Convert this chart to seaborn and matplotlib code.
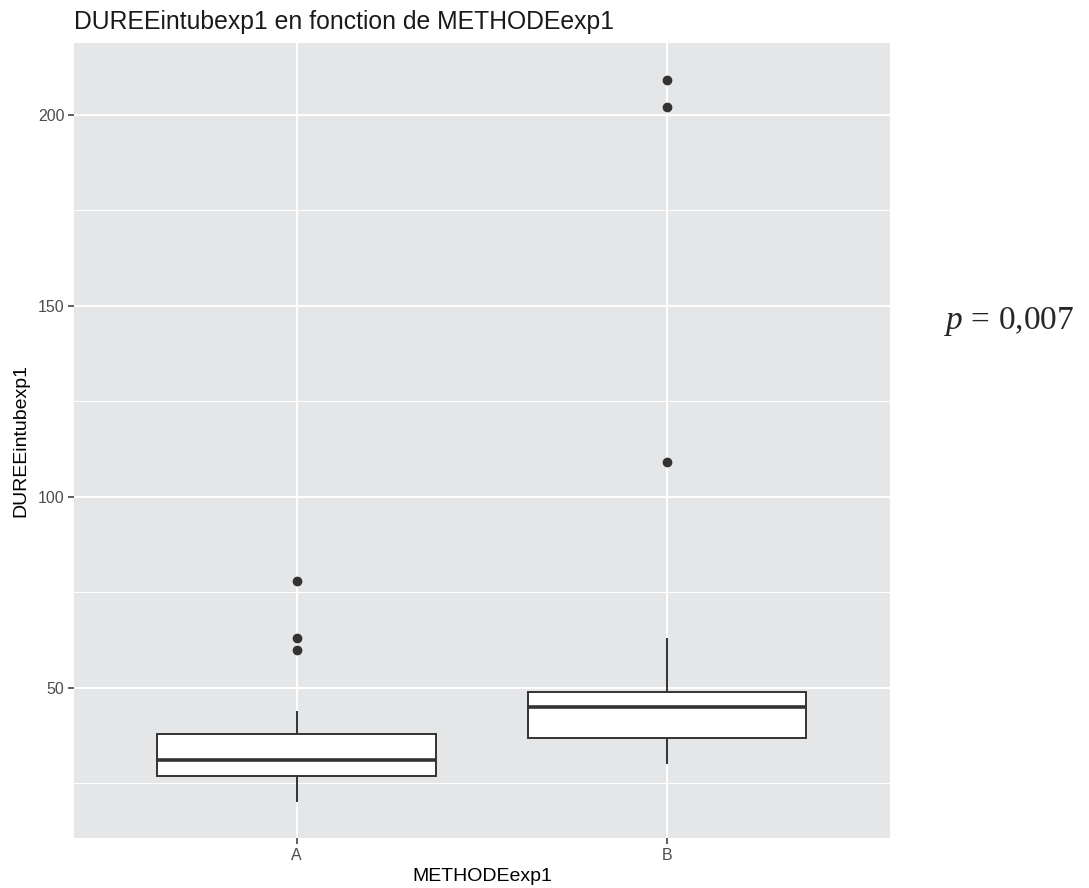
import numpy as np
import pandas as pd
import seaborn as sns
import matplotlib.pyplot as plt
from matplotlib.ticker import FixedLocator

# valeurs (quartiles, moustaches, points extremes)
duree_A = [20, 23, 25, 26, 27, 28, 29, 30, 31, 32, 34, 36, 38, 44, 60, 63, 78]
duree_B = [30, 33, 35, 36, 37, 40, 42, 44, 45, 46, 47, 48, 49, 63, 109, 202, 209]
methodes = ["A", "B"]
y_ticks = [50, 100, 150, 200]
y_minor = [25, 75, 125, 175]

df = pd.DataFrame({
    "METHODEexp1": ["A"] * len(duree_A) + ["B"] * len(duree_B),
    "DUREEintubexp1": duree_A + duree_B,
})

sns.set_theme(style="darkgrid")
plt.rcParams["font.family"] = ["Liberation Sans", "DejaVu Sans"]
plt.rcParams["mathtext.fontset"] = "custom"
plt.rcParams["mathtext.it"] = "Liberation Serif:italic"
plt.rcParams["mathtext.rm"] = "Liberation Serif"

fig = plt.figure(figsize=(10.89, 8.88), dpi=100)
ax = fig.add_axes([0.068, 0.0563, 0.749, 0.8953])
ax.set_facecolor("#E5E6E8")

sns.boxplot(data=df, x="METHODEexp1", y="DUREEintubexp1", order=methodes,
            width=0.75, color="white", saturation=1, linecolor="#333333",
            linewidth=1.4, showcaps=False,
            medianprops={"linewidth": 2.6, "color": "#333333"},
            flierprops={"marker": "o", "markersize": 6, "markerfacecolor": "#333333",
                        "markeredgecolor": "#333333"},
            ax=ax)

ax.set_xlim(-0.6, 1.6)
ax.set_ylim(10.7, 218.8)
ax.yaxis.set_major_locator(FixedLocator(y_ticks))
ax.yaxis.set_minor_locator(FixedLocator(y_minor))
ax.grid(which="major", color="white", linewidth=1.4)
ax.grid(which="minor", axis="y", color="white", linewidth=0.7)
ax.set_axisbelow(True)
for s in ax.spines.values():
    s.set_visible(False)

ax.tick_params(which="major", left=True, bottom=True, length=4, width=1.1,
               color="#333333", labelsize=11.5, labelcolor="#4D4D4D", pad=3)
ax.tick_params(which="minor", left=False, length=0)

ax.set_xlabel("METHODEexp1", fontsize=14, color="black", labelpad=4)
ax.set_ylabel("DUREEintubexp1", fontsize=14, color="black", labelpad=6)
ax.set_title("DUREEintubexp1 en fonction de METHODEexp1", loc="left",
             fontsize=17.8, color="#1A1A1A", pad=10)

fig.text(0.867, 0.638, r"$p$ = 0,007", fontsize=24, family="Liberation Serif",
         va="center")

fig.savefig("out.png", dpi=100)
